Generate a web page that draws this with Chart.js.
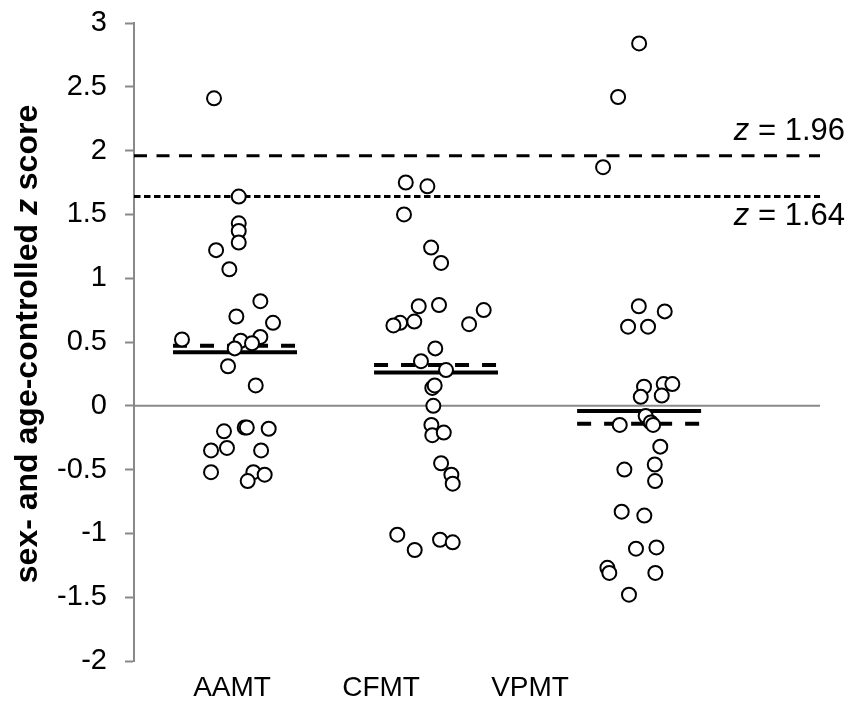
<!DOCTYPE html>
<html>
<head>
<meta charset="utf-8">
<script src="https://cdn.jsdelivr.net/npm/chart.js@4.4.1/dist/chart.umd.min.js"></script>
<style>
  html, body { margin: 0; padding: 0; background: #fff; }
  #wrap { width: 850px; height: 702px; }
</style>
</head>
<body>
<div id="wrap"><canvas id="zChart"></canvas></div>
<script>
// groups on the x axis
var categories = ['AAMT', 'CFMT', 'VPMT'];

// individual z scores and their jittered x position
var aamtScores = [2.41, 1.64, 1.43, 1.37, 1.28, 1.22, 1.07, 0.82, 0.70, 0.65, 0.52, 0.54, 0.51, 0.49,
                  0.45, 0.31, 0.16, -0.20, -0.17, -0.17, -0.18, -0.35, -0.33, -0.35, -0.52, -0.52, -0.54, -0.59];
var aamtJitter = [0.879, 1.045, 1.045, 1.045, 1.045, 0.893, 0.982, 1.190, 1.029, 1.275, 0.664, 1.190, 1.058, 1.134,
                  1.018, 0.973, 1.159, 0.946, 1.085, 1.099, 1.246, 0.859, 0.966, 1.195, 0.859, 1.143, 1.219, 1.105];

var cfmtScores = [1.75, 1.72, 1.50, 1.24, 1.12, 0.78, 0.79, 0.75, 0.65, 0.63, 0.66, 0.64, 0.45, 0.35,
                  0.28, 0.14, 0.16, 0.00, -0.15, -0.23, -0.21, -0.45, -0.54, -0.61, -1.01, -1.13, -1.05, -1.07];
var cfmtJitter = [2.166, 2.311, 2.154, 2.336, 2.403, 2.253, 2.389, 2.689, 2.128, 2.083, 2.223, 2.591, 2.364, 2.268,
                  2.436, 2.344, 2.360, 2.351, 2.338, 2.344, 2.421, 2.403, 2.472, 2.481, 2.109, 2.226, 2.396, 2.481];

var vpmtScores = [2.84, 2.42, 1.87, 0.78, 0.74, 0.62, 0.62, 0.15, 0.17, 0.17, 0.07, 0.08, -0.08, -0.13,
                  -0.15, -0.15, -0.32, -0.50, -0.46, -0.59, -0.83, -0.86, -1.12, -1.11, -1.27, -1.31, -1.31, -1.48];
var vpmtJitter = [3.732, 3.591, 3.490, 3.730, 3.904, 3.658, 3.792, 3.765, 3.897, 3.955, 3.743, 3.884, 3.776, 3.810,
                  3.826, 3.602, 3.874, 3.633, 3.837, 3.839, 3.615, 3.767, 3.711, 3.848, 3.519, 3.532, 3.841, 3.664];

// group summaries (solid = mean, dashed = median)
var meanScores = [0.42, 0.26, -0.04];
var medianScores = [0.47, 0.32, -0.14];
var summaryCenters = [1.02, 2.369, 3.732];

// significance cut-offs
var thresholds = [1.96, 1.64];

// y ticks
var yMin = -2, yMax = 3, yStep = 0.5;

var xMin = 0.342, xMax = 4.946;
var halfSpan = 0.416;
var font = '"Liberation Sans", Arial, sans-serif';

function toPoints(xs, ys) {
    return ys.map(function (v, i) { return { x: xs[i], y: v }; });
}

function hLine(y, x0, x1) {
    return [{ x: x0, y: y }, { x: x1, y: y }];
}

var datasets = [];

[[aamtJitter, aamtScores], [cfmtJitter, cfmtScores], [vpmtJitter, vpmtScores]].forEach(function (g, i) {
    datasets.push({
        type: 'scatter',
        label: categories[i],
        data: toPoints(g[0], g[1]),
        pointRadius: 7,
        pointBorderWidth: 2,
        pointBackgroundColor: '#fff',
        pointBorderColor: '#000',
        order: 0
    });
});

categories.forEach(function (c, i) {
    datasets.push({
        type: 'line',
        label: c + ' mean',
        data: hLine(meanScores[i], summaryCenters[i] - halfSpan, summaryCenters[i] + halfSpan),
        borderColor: '#000',
        borderWidth: 4,
        pointRadius: 0,
        order: 1
    });
    datasets.push({
        type: 'line',
        label: c + ' median',
        data: hLine(medianScores[i], summaryCenters[i] - halfSpan, summaryCenters[i] + halfSpan),
        borderColor: '#000',
        borderWidth: 4,
        borderDash: [14, 13],
        pointRadius: 0,
        order: 1
    });
});

datasets.push({
    type: 'line',
    label: 'z = 1.96',
    data: hLine(thresholds[0], xMin, xMax),
    borderColor: '#000',
    borderWidth: 3,
    borderDash: [13, 9.5],
    pointRadius: 0,
    order: 2
});
datasets.push({
    type: 'line',
    label: 'z = 1.64',
    data: hLine(thresholds[1], xMin, xMax),
    borderColor: '#000',
    borderWidth: 3,
    borderDash: [6.5, 3.5],
    pointRadius: 0,
    order: 2
});
datasets.push({
    type: 'line',
    label: 'zero',
    data: hLine(0, xMin, xMax),
    borderColor: '#898989',
    borderWidth: 2,
    pointRadius: 0,
    order: 3
});

// axis title with italic z, and the cut-off labels
var textPlugin = {
    id: 'zText',
    afterDraw: function (chart) {
        var ctx = chart.ctx;
        var ys = chart.scales.y;
        var area = chart.chartArea;

        function drawParts(parts, x, y, align) {
            var widths = parts.map(function (p) { ctx.font = p[0]; return ctx.measureText(p[1]).width; });
            var total = widths.reduce(function (a, b) { return a + b; }, 0);
            var start = align === 'right' ? x - total : x - total / 2;
            parts.forEach(function (p, i) {
                ctx.font = p[0];
                ctx.fillText(p[1], start, y);
                start += widths[i];
            });
        }

        ctx.save();
        ctx.fillStyle = '#000';
        ctx.textAlign = 'left';
        ctx.textBaseline = 'alphabetic';

        // y axis title
        ctx.save();
        ctx.translate(37, (area.top + area.bottom) / 2 + 2);
        ctx.rotate(-Math.PI / 2);
        drawParts([
            ['bold 32px ' + font, 'sex- and age-controlled '],
            ['italic bold 32px ' + font, 'z'],
            ['bold 32px ' + font, ' score']
        ], 0, 0, 'center');
        ctx.restore();

        drawParts([['italic 31px ' + font, 'z'], ['31px ' + font, ' = 1.96']],
            845, ys.getPixelForValue(thresholds[0]) - 16, 'right');
        drawParts([['italic 31px ' + font, 'z'], ['31px ' + font, ' = 1.64']],
            845, ys.getPixelForValue(thresholds[1]) + 28, 'right');
        ctx.restore();
    }
};

var ctxZ = document.getElementById('zChart').getContext('2d');
var zChart = new Chart(ctxZ, {
    data: { datasets: datasets },
    options: {
        responsive: true,
        maintainAspectRatio: false,
        animation: false,
        layout: { padding: { top: 23, right: 30, left: 0, bottom: 0 } },
        plugins: {
            legend: { display: false },
            tooltip: { enabled: false }
        },
        scales: {
            x: {
                type: 'linear',
                min: xMin,
                max: xMax,
                afterBuildTicks: function (scale) {
                    scale.ticks = categories.map(function (c, i) { return { value: i + 1 }; });
                },
                afterFit: function (scale) {
                    scale.height = 41;
                    scale.paddingLeft = 0;
                    scale.paddingRight = 0;
                },
                ticks: {
                    autoSkip: false,
                    maxRotation: 0,
                    padding: 10,
                    color: '#000',
                    font: { family: font, size: 28 },
                    callback: function (v) { return categories[Math.round(v) - 1] || ''; }
                },
                grid: { display: false, drawTicks: false },
                border: { display: false }
            },
            y: {
                min: yMin,
                max: yMax,
                afterFit: function (scale) {
                    scale.width = 134;
                    scale.paddingTop = 0;
                    scale.paddingBottom = 0;
                },
                ticks: {
                    stepSize: yStep,
                    padding: 18,
                    color: '#000',
                    font: { family: font, size: 29 },
                    callback: function (v) { return String(Math.round(v * 10) / 10); }
                },
                grid: {
                    drawOnChartArea: false,
                    drawTicks: true,
                    tickLength: 9,
                    tickWidth: 2,
                    tickColor: '#898989'
                },
                border: { display: true, color: '#898989', width: 2 }
            }
        }
    },
    plugins: [textPlugin]
});
</script>
</body>
</html>
